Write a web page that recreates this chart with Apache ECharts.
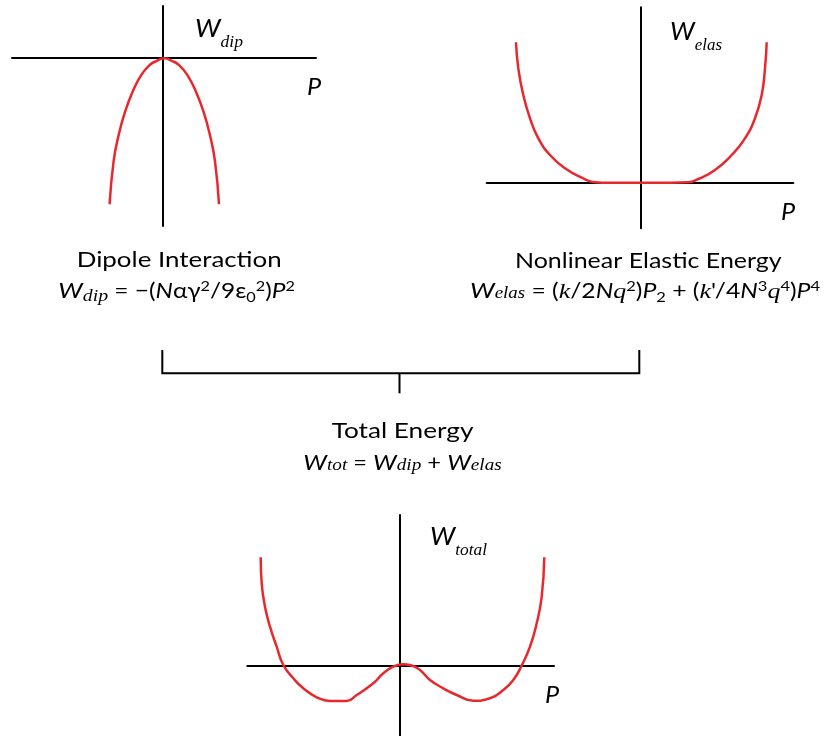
<!DOCTYPE html>
<html>
<head>
<meta charset="utf-8">
<script src="https://cdn.jsdelivr.net/npm/echarts@6/dist/echarts.min.js"></script>
<style>
  html, body { margin: 0; padding: 0; background: #ffffff; }
  #chart { width: 829px; height: 736px; }
</style>
</head>
<body>
<div id="chart"></div>
<script>
// Dipole interaction energy W_dip(P): a downward parabola-like curve
const dipoleP = [-5.27, -4.87, -4.37, -3.73, -2.97, -2.13, -1.30, -0.55, 0.20, 0.95, 1.70, 2.53, 3.37, 4.13, 4.77, 5.27, 5.67];
const dipoleW = [-14.7, -10.4, -7.8, -5.45, -3.45, -1.8, -0.8, -0.35, -0.1, -0.35, -0.8, -1.8, -3.45, -5.45, -7.8, -10.4, -14.7];

// Nonlinear elastic energy W_elas(P): flat bottom, steep quartic walls
const elasticP = [-12.47, -12.24, -11.74, -11.07, -10.24, -9.07, -7.57, -5.90, -4.60, -3.00, 0, 3.00, 4.76, 5.76, 7.43, 9.10, 10.43, 11.43, 12.10, 12.43, 12.60];
const elasticW = [14.04, 11.44, 8.77, 6.44, 4.44, 2.77, 1.44, 0.50, 0.05, 0, 0, 0, 0.04, 0.37, 1.27, 2.77, 4.44, 6.44, 8.77, 11.44, 14.04];

// Total energy W_tot(P): double well
const totalP = [-13.88, -13.78, -13.45, -12.95, -12.28, -11.62, -10.62, -9.62, -8.28, -6.95, -5.28, -4.28, -2.62, -1.62, -0.62, 0.35, 1.05, 2.05, 3.05, 4.38, 5.72, 7.38, 9.05, 10.38, 11.38, 12.22, 13.05, 13.72, 14.22, 14.48];
const totalW = [10.82, 8.22, 5.88, 3.88, 1.88, 0.05, -1.28, -2.28, -3.18, -3.55, -3.55, -2.95, -1.78, -0.78, -0.12, 0.12, 0.05, -0.45, -1.45, -2.28, -2.95, -3.52, -3.28, -2.45, -1.45, 0.0, 1.88, 4.22, 6.88, 10.82];

// Caption texts
const dipoleTitle = 'Dipole Interaction';
const elasticTitle = 'Nonlinear Elastic Energy';
const totalTitle = 'Total Energy';

const CURVE = '#e8282c';
const INK = '#000000';
const SANS = 'Lato, "Noto Sans", sans-serif';
const SERIF = '"Liberation Serif", "DejaVu Serif", serif';

const pairs = (xs, ys) => xs.map((x, i) => [x, ys[i]]);

// ---- text layout: runs of differently styled pieces on one baseline ----
const mctx = document.createElement('canvas').getContext('2d');
function fontOf(s) {
  return (s.it ? 'italic ' : 'normal ') + 'normal ' + s.size + 'px ' + s.fam;
}
function textRun(line) {
  let natural = 0;
  const parts = line.segs.map(s => {
    const f = fontOf(s);
    mctx.font = f;
    mctx.textBaseline = 'middle';
    const w = mctx.measureText(s.t).width;
    const off = mctx.measureText('H').actualBoundingBoxDescent;
    natural += w;
    return { s, f, w, off };
  });
  const k = line.scale || (line.width / natural);
  let x = line.left;
  return parts.map(p => {
    const el = {
      type: 'text',
      x: x,
      y: line.base + (p.s.dy || 0) - p.off,
      scaleX: k,
      silent: true,
      style: { text: p.s.t, font: p.f, fill: INK, align: 'left', verticalAlign: 'middle' }
    };
    x += p.w * k;
    return el;
  });
}
const S = (t, size, extra) => Object.assign({ t, size, fam: SANS }, extra || {});
const SI = (t, size, extra) => Object.assign({ t, size, fam: SANS, it: 1 }, extra || {});
const RI = (t, size, extra) => Object.assign({ t, size, fam: SERIF, it: 1 }, extra || {});
const sup = t => S(t, 14, { dy: -7.5 });
const sub = t => S(t, 14, { dy: 4 });

const lines = [
  // axis names
  { left: 195, base: 36.7, width: 48, segs: [SI('W', 26), RI('dip', 17, { dy: 10 })] },
  { left: 307, base: 95, scale: 1.05, segs: [SI('P', 24)] },
  { left: 670, base: 40, width: 52, segs: [SI('W', 26), RI('elas', 17, { dy: 10 })] },
  { left: 781, base: 220, scale: 1.05, segs: [SI('P', 24)] },
  { left: 430, base: 545, width: 57, segs: [SI('W', 26), RI('total', 17, { dy: 10 })] },
  { left: 545, base: 703, scale: 1.05, segs: [SI('P', 24)] },
  // captions
  { left: 76.7, base: 267.3, width: 205, segs: [S(dipoleTitle, 21)] },
  { left: 58.3, base: 298.3, width: 236.7, segs: [
      SI('W', 22), RI('dip', 17, { dy: 3 }), S(' = \u2212(', 21), SI('N', 21), S('\u03b1\u03b3', 21), sup('2'),
      S('/9\u03b5', 21), sub('0'), sup('2'), S(')', 21), SI('P', 21), sup('2')] },
  { left: 515, base: 268.3, width: 266.7, segs: [S(elasticTitle, 21)] },
  { left: 470, base: 298.3, width: 350, segs: [
      SI('W', 22), RI('elas', 16), S(' = (', 21), RI('k', 22), S('/2', 21), SI('N', 21), RI('q', 22), sup('2'),
      S(')', 21), SI('P', 21), sub('2'), S(' + (', 21), RI('k', 22), S('\'/4', 21), SI('N', 21), sup('3'),
      RI('q', 22), sup('4'), S(')', 21), SI('P', 21), sup('4')] },
  { left: 331.7, base: 438.3, width: 141.7, segs: [S(totalTitle, 21)] },
  { left: 303.3, base: 470, width: 198.4, segs: [
      SI('W', 22), RI('tot', 17), S(' = ', 21), SI('W', 22), RI('dip', 17), S(' + ', 21), SI('W', 22), RI('elas', 17)] }
];

// ---- panels ----
const grids = [
  { left: 12, top: 6, width: 304, height: 220 },
  { left: 486.7, top: 7.3, width: 306.6, height: 221 },
  { left: 247.3, top: 515, width: 306.7, height: 221 }
];
const xRanges = [[-15.03, 15.37], [-15.4, 15.26], [-15.22, 15.45]];
const yRanges = [[-16.87, 5.13], [-4.56, 17.54], [-7.05, 15.05]];

const axisCommon = {
  type: 'value',
  axisLine: { show: true, onZero: true, lineStyle: { color: INK, width: 2 } },
  axisTick: { show: false },
  axisLabel: { show: false },
  splitLine: { show: false }
};

const curves = [pairs(dipoleP, dipoleW), pairs(elasticP, elasticW), pairs(totalP, totalW)];

const chart = echarts.init(document.getElementById('chart'), null, { renderer: 'canvas' });
chart.setOption({
  animation: false,
  backgroundColor: '#ffffff',
  grid: grids,
  xAxis: grids.map((g, i) => Object.assign({}, axisCommon, { gridIndex: i, min: xRanges[i][0], max: xRanges[i][1] })),
  yAxis: grids.map((g, i) => Object.assign({}, axisCommon, { gridIndex: i, min: yRanges[i][0], max: yRanges[i][1] })),
  series: curves.map((d, i) => ({
    type: 'line',
    xAxisIndex: i,
    yAxisIndex: i,
    data: d,
    smooth: 0.5,
    showSymbol: false,
    lineStyle: { color: CURVE, width: 2.5 },
    z: 5
  }))
});

// Bracket joining the two upper panels' energy axes into the lower panel's axis
const o1 = chart.convertToPixel({ gridIndex: 0 }, [0, 0]);
const o2 = chart.convertToPixel({ gridIndex: 1 }, [0, 0]);
const o3 = chart.convertToPixel({ gridIndex: 2 }, [0, 0]);
const barY = 373.3;
chart.setOption({
  graphic: { elements: [].concat(...lines.map(textRun)).concat([
    { type: 'polyline', silent: true, shape: { points: [[o1[0], 350], [o1[0], barY], [o2[0] - 1.4, barY], [o2[0] - 1.4, 350]] },
      style: { stroke: INK, lineWidth: 2, fill: null } },
    { type: 'line', silent: true, shape: { x1: o3[0], y1: barY, x2: o3[0], y2: 393.3 },
      style: { stroke: INK, lineWidth: 2 } }
  ]) }
});
</script>
</body>
</html>
